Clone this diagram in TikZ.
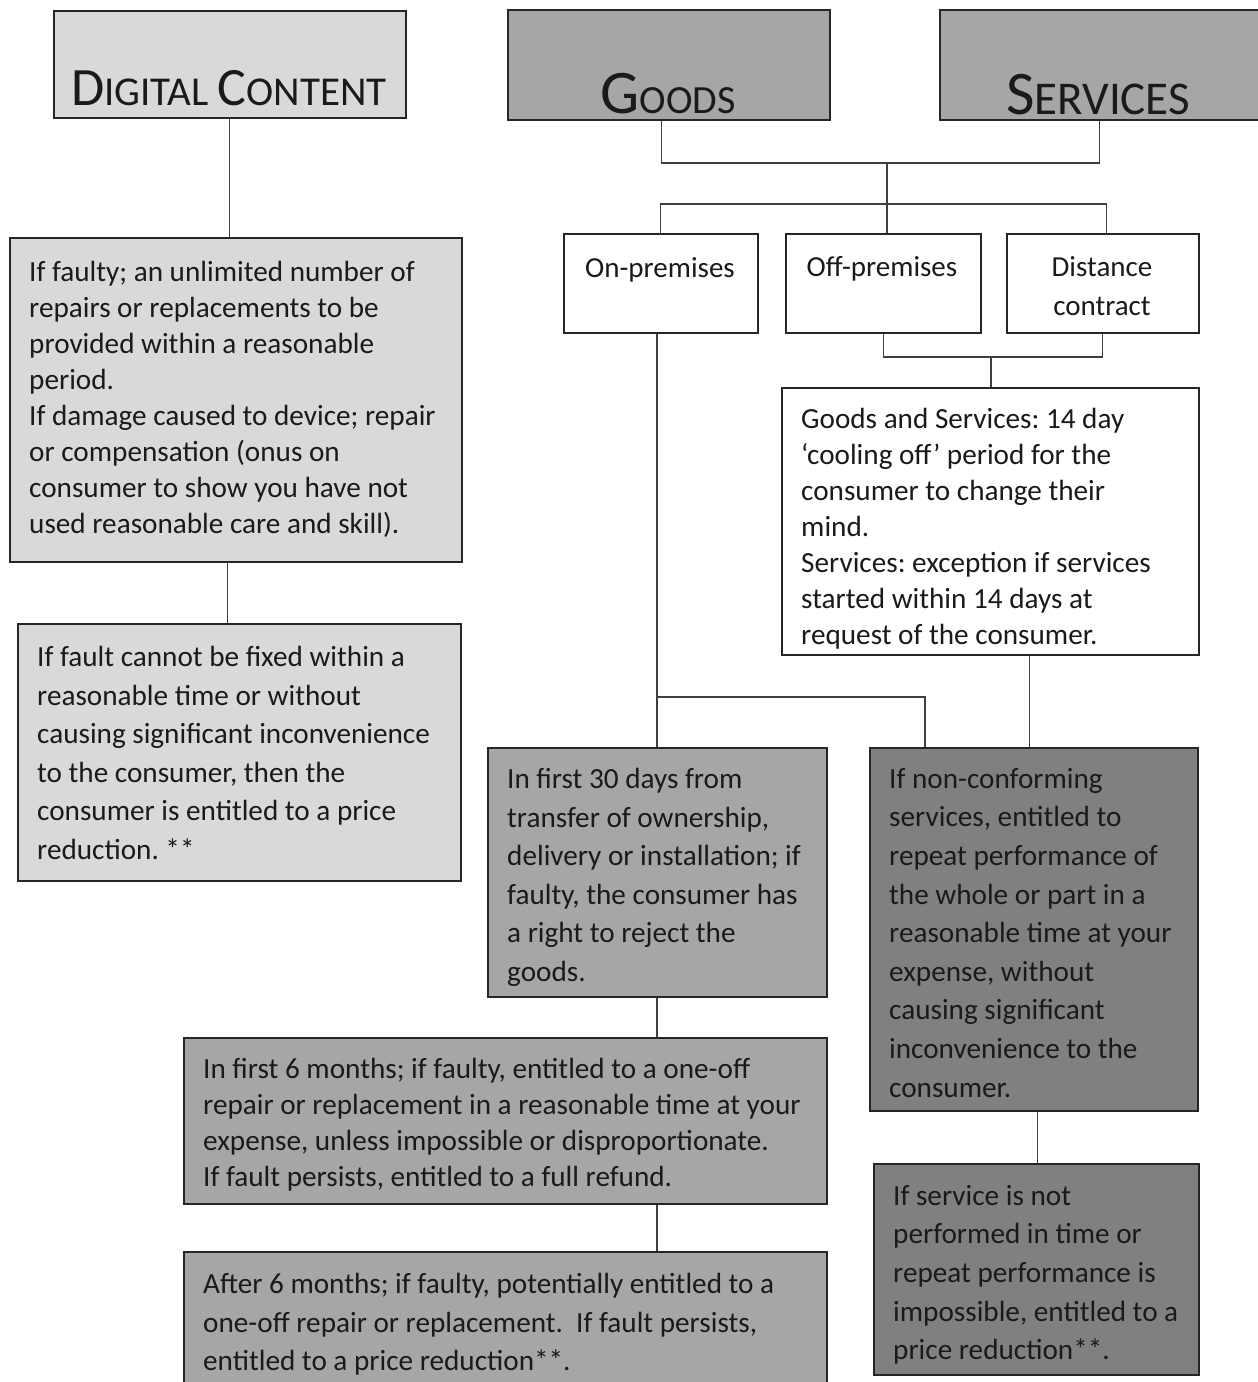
\documentclass[tikz,border=0pt]{standalone}
\usepackage{fontspec}
\setmainfont{Carlito}
\frenchspacing
\definecolor{lightbox}{HTML}{D9D9D9}
\definecolor{midbox}{HTML}{A6A6A6}
\definecolor{darkbox}{HTML}{808080}
\definecolor{inkc}{HTML}{1A1A1A}
\begin{document}
\frenchspacing
\begin{tikzpicture}[x=1pt,y=-1pt,
  box/.style={draw=black!85, line width=1.6pt, inner sep=0pt, anchor=north west},
  txt/.style={anchor=north west, inner sep=0pt, align=left, text=inkc, font=\fontsize{29.2}{36}\selectfont},
  txtb/.style={txt, font=\fontsize{29.2}{38.6}\selectfont},
  head/.style={inner sep=0pt, text=inkc, anchor=base},
  small/.style={inner sep=0pt, text=inkc, anchor=north, align=center, font=\fontsize{29}{39}\selectfont},
  link/.style={draw=black!75, line width=1.3pt}]
\useasboundingbox (0,0) rectangle (1258,1382);
\clip (0,0) rectangle (1258,1382);
% header boxes
\node[box, fill=lightbox, minimum width=352pt, minimum height=107pt] (dc) at (53,10) {};
\node[box, fill=midbox, minimum width=322pt, minimum height=110pt] (goods) at (507,9) {};
\node[box, fill=midbox, minimum width=320pt, minimum height=110pt] (serv) at (939,9) {};
\node[head] (dct) at (229,105) {\fontsize{54}{54}\selectfont D\fontsize{41}{41}\selectfont IGITAL \fontsize{54}{54}\selectfont C\fontsize{41}{41}\selectfont ONTENT};
\node[head] (gdt) at (668,113) {\fontsize{62}{62}\selectfont G\fontsize{40}{40}\selectfont OODS};
\node[head] (svt) at (1098,114) {\fontsize{62}{62}\selectfont S\fontsize{47}{47}\selectfont ERVICES};
% digital content column
\node[box, fill=lightbox, minimum width=452pt, minimum height=324pt] (dc2) at (9,237) {};
\node[txt] (dc2t) at (29,261) {If faulty; an unlimited number of\\repairs or replacements to be\\provided within a reasonable\\period.\\If damage caused to device; repair\\or compensation (onus on\\consumer to show you have not\\used reasonable care and skill).};
\node[box, fill=lightbox, minimum width=443pt, minimum height=257pt] (dc3) at (17,623) {};
\node[txtb] (dc3t) at (37,646) {If fault cannot be fixed within a\\reasonable time or without\\causing significant inconvenience\\to the consumer, then the\\consumer is entitled to a price\\reduction. **};
% contract type boxes
\node[box, fill=white, minimum width=194pt, minimum height=99pt] (onp) at (563,233) {};
\node[box, fill=white, minimum width=195pt, minimum height=99pt] (offp) at (785,233) {};
\node[box, fill=white, minimum width=192pt, minimum height=99pt] (dist) at (1006,233) {};
\node[small] (onpt) at (660,257) {On-premises};
\node[small] (offpt) at (882,256) {Off-premises};
\node[small] (distt) at (1102,256) {Distance\\contract};
% cooling off
\node[box, fill=white, minimum width=417pt, minimum height=267pt] (gs) at (781,387) {};
\node[txt] (gst) at (801,408) {Goods and Services: 14 day\\‘cooling off’ period for the\\consumer to change their\\mind.\\Services: exception if services\\started within 14 days at\\request of the consumer.};
% goods column
\node[box, fill=midbox, minimum width=339pt, minimum height=249pt] (d30) at (487,747) {};
\node[txtb] (d30t) at (507,768) {In first 30 days from\\transfer of ownership,\\delivery or installation; if\\faulty, the consumer has\\a right to reject the\\goods.};
\node[box, fill=midbox, minimum width=643pt, minimum height=166pt] (m6) at (183,1037) {};
\node[txt] (m6t) at (203,1058) {In first 6 months; if faulty, entitled to a one-off\\repair or replacement in a reasonable time at your\\expense, unless impossible or disproportionate.\\If fault persists, entitled to a full refund.};
\node[box, fill=midbox, minimum width=643pt, minimum height=160pt] (a6) at (183,1251) {};
\node[txtb] (a6t) at (203,1273) {After 6 months; if faulty, potentially entitled to a\\one-off repair or replacement.\ \ If fault persists,\\entitled to a price reduction**.};
% services column
\node[box, fill=darkbox, minimum width=328pt, minimum height=363pt] (nc) at (869,747) {};
\node[txtb] (nct) at (889,768) {If non-conforming\\services, entitled to\\repeat performance of\\the whole or part in a\\reasonable time at your\\expense, without\\causing significant\\inconvenience to the\\consumer.};
\node[box, fill=darkbox, minimum width=325pt, minimum height=211pt] (sn) at (873,1163) {};
\node[txtb] (snt) at (893,1185) {If service is not\\performed in time or\\repeat performance is\\impossible, entitled to a\\price reduction**.};
% connectors
\coordinate (j1) at (887,163);
\coordinate (j2) at (887,204);
\coordinate (j3) at (991,357);
\coordinate (j4) at (657,697);
\coordinate (j5) at (925,697);
\draw[link] (dc.south) -- (dc.south |- dc2.north);
\draw[link] ([xshift=-8pt]dc2.south) -- ([xshift=-8pt]dc2.south |- dc3.north);
\draw[link] ([xshift=-7pt]goods.south) |- (j1) -| (serv.south);
\draw[link] (j1) -- (j2);
\draw[link] (onp.north) |- (j2) -| ([xshift=4pt]dist.north);
\draw[link] (j2) -- (j2 |- offp.north);
\draw[link] (offp.south) |- (j3) -| (dist.south);
\draw[link] (j3) -- (j3 |- gs.north);
\draw[link] (j4 |- onp.south) -- (j4 |- d30.north);
\draw[link] (j4) -- (j5) -- (j5 |- nc.north);
\draw[link] ([xshift=-4pt]gs.south -| nc.north) -- ([xshift=-4pt]nc.north);
\draw[link] (j4 |- d30.south) -- (j4 |- m6.north);
\draw[link] (j4 |- m6.south) -- (j4 |- a6.north);
\draw[link] ([xshift=4pt]nc.south) -- ([xshift=4pt]nc.south |- sn.north);
\end{tikzpicture}
\end{document}
